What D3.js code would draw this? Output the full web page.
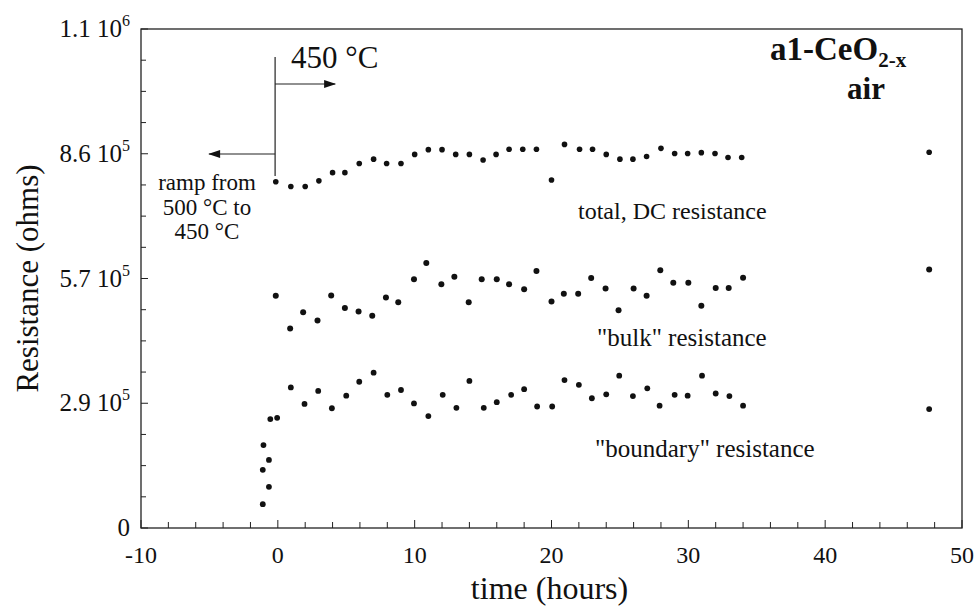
<!DOCTYPE html>
<html>
<head>
<meta charset="utf-8">
<script src="https://cdn.jsdelivr.net/npm/d3@7"></script>
<style>
    body { margin: 0; background: #fff; }
    svg text { font-family: "Liberation Serif", "DejaVu Serif", serif; fill: #111; }
</style>
</head>
<body>
<div class="container"></div>
<script>
var width = 980,
    height = 608;

// time in hours, resistance in ohms
var totalTime = [-0.15, 0.95, 2.0, 3.0, 4.0, 4.9, 5.95, 7.0, 7.95, 9.0, 10.0, 11.0, 12.0, 13.0, 14.0, 15.0, 15.95, 16.9,
    17.9, 18.9, 20.0, 20.95, 22.05, 23.0, 24.0, 25.0, 25.95, 26.95, 28.0, 29.0, 29.95, 30.95, 31.95, 32.9, 33.9, 47.6];
var totalRes = [798e3, 787e3, 787e3, 800e3, 819e3, 819e3, 840e3, 850e3, 840e3, 840e3, 861e3, 872e3, 872e3, 861e3, 861e3,
    848e3, 861e3, 873e3, 873e3, 873e3, 802e3, 884e3, 873e3, 873e3, 861e3, 850e3, 850e3, 856e3, 875e3, 863e3, 863e3,
    865e3, 863e3, 854e3, 854e3, 866e3];

var bulkTime = [-0.15, 0.9, 1.85, 2.9, 3.9, 4.9, 5.9, 6.9, 7.9, 8.8, 9.95, 10.85, 11.95, 12.9, 13.95, 14.9, 16.0, 16.9,
    18.0, 18.9, 20.0, 20.9, 21.95, 22.9, 23.95, 24.9, 26.0, 26.95, 27.95, 28.9, 30.0, 30.95, 32.0, 32.95, 34.0, 47.6];
var bulkRes = [535e3, 460e3, 497e3, 478e3, 536e3, 507e3, 499e3, 489e3, 531e3, 520e3, 573e3, 611e3, 562e3, 579e3, 520e3,
    573e3, 573e3, 562e3, 550e3, 592e3, 522e3, 540e3, 540e3, 576e3, 552e3, 502e3, 552e3, 535e3, 594e3, 565e3, 565e3,
    512e3, 553e3, 553e3, 577e3, 596e3];

var boundaryTime = [-1.1, -0.65, -1.1, -0.65, -1.05, -0.55, -0.05, 0.95, 1.95, 2.95, 3.95, 5.0, 5.95, 7.0, 8.0, 9.0,
    9.95, 11.0, 12.05, 13.05, 14.0, 15.05, 16.0, 17.05, 18.0, 18.95, 20.05, 20.95, 22.0, 22.95, 24.0, 24.95, 25.95,
    27.0, 27.9, 29.0, 29.95, 31.0, 32.0, 33.0, 34.0, 47.6];
var boundaryRes = [55e3, 95e3, 134e3, 157e3, 191e3, 251e3, 254e3, 324e3, 286e3, 316e3, 276e3, 305e3, 337e3, 358e3,
    307e3, 318e3, 287e3, 258e3, 307e3, 277e3, 339e3, 277e3, 290e3, 307e3, 320e3, 280e3, 280e3, 341e3, 330e3, 299e3,
    308e3, 351e3, 304e3, 322e3, 282e3, 307e3, 305e3, 351e3, 310e3, 304e3, 282e3, 274e3];

var xTicks = [-10, 0, 10, 20, 30, 40, 50];
var yTicks = [0, 287500, 575000, 862500, 1150000];
var yTickText = ['0', '2.9 10', '5.7 10', '8.6 10', '1.1 10'];
var yTickExp = ['', '5', '5', '5', '6'];

var x = d3.scaleLinear().domain([-10, 50]).range([141, 962]);
var y = d3.scaleLinear().domain([0, 1150000]).range([528, 29]);

var svg = d3.select('.container').append('svg')
    .attr('width', width)
    .attr('height', height)
    .attr('font-family', '"Liberation Serif", "DejaVu Serif", serif');

var defs = svg.append('defs');
defs.append('marker')
    .attr('id', 'head')
    .attr('viewBox', '0 0 12 8')
    .attr('refX', 11)
    .attr('refY', 4)
    .attr('markerWidth', 13)
    .attr('markerHeight', 8)
    .attr('markerUnits', 'userSpaceOnUse')
    .attr('orient', 'auto')
    .append('path')
    .attr('d', 'M0,0 L12,4 L0,8 Z')
    .attr('fill', '#111');

// frame
svg.append('rect')
    .attr('x', x.range()[0])
    .attr('y', y.range()[1])
    .attr('width', x.range()[1] - x.range()[0])
    .attr('height', y.range()[0] - y.range()[1])
    .attr('fill', 'none')
    .attr('stroke', '#222')
    .attr('stroke-width', 1.3);

// inner ticks
var xMinor = d3.range(-10, 50.01, 2);
svg.append('g').selectAll('line')
    .data(xMinor)
    .enter().append('line')
    .attr('x1', (d) => x(d))
    .attr('x2', (d) => x(d))
    .attr('y1', y(0))
    .attr('y2', (d) => y(0) - (d % 10 === 0 ? 8 : 6))
    .attr('stroke', '#222');

var yMinor = d3.range(0, 1150001, 71875);
svg.append('g').selectAll('line')
    .data(yMinor)
    .enter().append('line')
    .attr('x1', x(-10))
    .attr('x2', (d, i) => x(-10) + (i % 4 === 0 ? 7 : 5))
    .attr('y1', (d) => y(d))
    .attr('y2', (d) => y(d))
    .attr('stroke', '#222');

// tick labels
svg.append('g').selectAll('text')
    .data(xTicks)
    .enter().append('text')
    .attr('x', (d) => x(d))
    .attr('y', 563)
    .attr('text-anchor', 'middle')
    .style('font-size', '24px')
    .text((d) => d);

var yLab = svg.append('g').selectAll('text')
    .data(yTicks)
    .enter().append('text')
    .attr('y', (d) => y(d) + 8)
    .style('font-size', '25px');
yLab.append('tspan').text((d, i) => yTickText[i]);
yLab.append('tspan')
    .attr('dy', -11)
    .style('font-size', '16px')
    .text((d, i) => yTickExp[i]);
// right-align the whole label, superscript included
yLab.attr('x', function() {
    return 130 - this.getComputedTextLength();
});

// axis titles
svg.append('text')
    .attr('transform', 'translate(38,' + y(575000) + ') rotate(-90)')
    .attr('text-anchor', 'middle')
    .style('font-size', '31px')
    .text('Resistance (ohms)');

svg.append('text')
    .attr('x', (x(-10) + x(50)) / 2 - 2)
    .attr('y', 599)
    .attr('text-anchor', 'middle')
    .style('font-size', '32px')
    .text('time (hours)');

// series
var drawDots = (tt, rr, r) => {
    svg.append('g').selectAll('circle')
        .data(tt)
        .enter().append('circle')
        .attr('cx', (d) => x(d))
        .attr('cy', (d, i) => y(rr[i]))
        .attr('r', r)
        .attr('fill', '#111');
}
drawDots(totalTime, totalRes, 2.8);
drawDots(bulkTime, bulkRes, 3.0);
drawDots(boundaryTime, boundaryRes, 2.9);

// series labels
svg.append('text').attr('x', 578).attr('y', 219).style('font-size', '24px').text('total, DC resistance');
svg.append('text').attr('x', 597).attr('y', 346).style('font-size', '25px').text('"bulk" resistance');
svg.append('text').attr('x', 595).attr('y', 457).style('font-size', '25px').text('"boundary" resistance');

// temperature annotation
var tx = x(-0.2);
svg.append('line')
    .attr('x1', tx).attr('x2', tx)
    .attr('y1', 57).attr('y2', 176)
    .attr('stroke', '#222').attr('stroke-width', 1.2);
svg.append('line')
    .attr('x1', tx).attr('x2', tx + 60)
    .attr('y1', 84).attr('y2', 84)
    .attr('stroke', '#222').attr('stroke-width', 1.2)
    .attr('marker-end', 'url(#head)');
svg.append('line')
    .attr('x1', tx).attr('x2', tx - 66)
    .attr('y1', 154).attr('y2', 154)
    .attr('stroke', '#222').attr('stroke-width', 1.2)
    .attr('marker-end', 'url(#head)');
svg.append('text').attr('x', 291).attr('y', 68).style('font-size', '31px').text('450 \u00b0C');

var ramp = ['ramp from', '500 \u00b0C to', '450 \u00b0C'];
svg.append('g').selectAll('text')
    .data(ramp)
    .enter().append('text')
    .attr('x', 207)
    .attr('y', (d, i) => 190 + i * 24.5)
    .attr('text-anchor', 'middle')
    .style('font-size', '23px')
    .text((d) => d);

// sample label
var samp = svg.append('text')
    .attr('x', 770)
    .attr('y', 60)
    .style('font-size', '33px')
    .style('font-weight', 'bold');
samp.append('tspan').text('a1-CeO');
samp.append('tspan').attr('dy', 7).style('font-size', '21px').text('2-x');

svg.append('text')
    .attr('x', 866)
    .attr('y', 99)
    .attr('text-anchor', 'middle')
    .style('font-size', '31px')
    .style('font-weight', 'bold')
    .text('air');
</script>
</body>
</html>
